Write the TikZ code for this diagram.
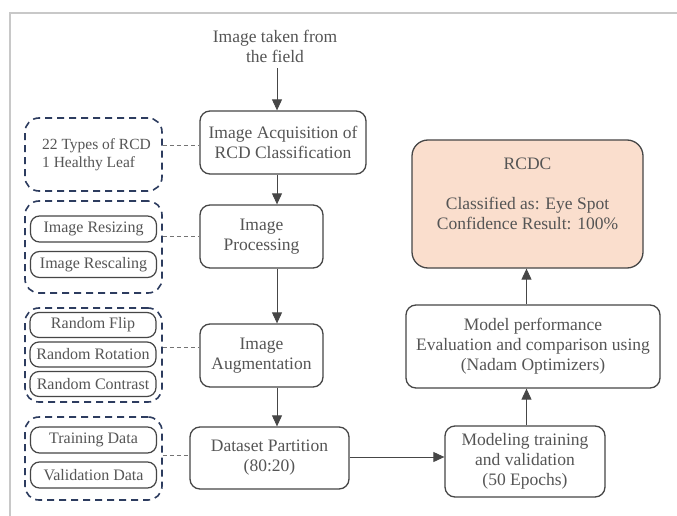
\documentclass[tikz,border=0pt]{standalone}
\usepackage{fontspec}
\setmainfont{Liberation Serif}
\usetikzlibrary{arrows.meta}
\definecolor{txt}{RGB}{85,85,85}
\definecolor{bord}{RGB}{70,70,70}
\definecolor{navy}{RGB}{45,60,95}
\definecolor{peach}{RGB}{250,222,205}
\definecolor{framec}{RGB}{200,200,200}
\begin{document}
\begin{tikzpicture}[x=1pt,y=-1pt,
 box/.style={draw=bord, line width=1.3pt, rounded corners=10pt, align=center, text=txt, font=\fontsize{17.5}{20}\selectfont, inner sep=0pt},
 sub/.style={draw=bord, line width=1.2pt, rounded corners=9pt, text=txt, font=\fontsize{16}{18}\selectfont, minimum width=126pt, minimum height=26pt, inner sep=0pt},
 grp/.style={draw=navy, line width=1.6pt, dash pattern=on 7pt off 5pt, rounded corners=14pt, minimum width=137pt, inner sep=0pt},
 arr/.style={draw=bord, line width=0.9pt, -{Triangle[length=11pt,width=10pt]}},
 conn/.style={draw=bord!75, line width=0.8pt, dash pattern=on 4pt off 3pt},
 plain/.style={align=center, text=txt, font=\fontsize{17.5}{20}\selectfont, inner sep=0pt}]
\useasboundingbox (0,0) rectangle (677,516);
\fill[white] (0,0) rectangle (677,516);
% frame
\draw[framec, line width=2pt] (10,516) -- (10,13) -- (677,13);

% main flow
\node[plain] (src) at (275,46) {Image taken from\\the field};
\node[box, minimum width=166pt, minimum height=63pt] (acq) at (283,142.5) {Image Acquisition of\\RCD Classification};
\node[box, minimum width=123pt, minimum height=63pt] (proc) at (261.5,236.5) {Image\\Processing};
\node[box, minimum width=123pt, minimum height=63pt] (aug) at (261.5,355.5) {Image\\Augmentation};
\node[box, minimum width=159pt, minimum height=62pt] (ds) at (269.5,458) {Dataset Partition\\(80:20)};
\node[box, minimum width=160pt, minimum height=71pt] (mt) at (525,461.5) {Modeling training\\and validation\\(50 Epochs)};
\node[box, minimum width=254pt, minimum height=83pt] (ev) at (533,346.5) {Model performance\\Evaluation and comparison using\\(Nadam Optimizers)};
\node[box, fill=peach, rounded corners=16pt, minimum width=231pt, minimum height=128pt] (rc) at (527.5,204) {RCDC\\\mbox{}\\Classified as: Eye Spot\\Confidence Result: 100\%\\\mbox{}};

\coordinate (ax) at (277,0);
\coordinate (bx) at (526.5,0);
\draw[arr] (src.south -| ax) ++(0,6) -- (acq.north -| ax);
\draw[arr] (acq.south -| ax) -- (proc.north -| ax);
\draw[arr] (proc.south -| ax) -- (aug.north -| ax);
\draw[arr] (aug.south -| ax) -- (ds.north -| ax);
\draw[arr] ([yshift=1pt]ds.east) -- ([yshift=1pt]ds.east -| mt.west);
\draw[arr] (mt.north -| bx) -- (ev.south -| bx);
\draw[arr] (ev.north -| bx) -- (rc.south -| bx);

% left groups
\node[grp, minimum height=73pt, text=txt, font=\fontsize{15.5}{18}\selectfont] (g1) at (93.5,154.5) {\begin{tabular}{@{\hspace{6pt}}l@{}}22 Types of RCD\\1 Healthy Leaf\end{tabular}};

\node[grp, minimum height=92pt] (g2) at (93.5,247) {};
\node[sub] (r1) at (93.5,229) {Image Resizing};
\node[sub] (r2) at (93.5,264.5) {Image Rescaling};

\node[grp, minimum height=94pt] (g3) at (93.5,355) {};
\node[sub, minimum height=25pt] (a1) at (93,325) {Random Flip};
\node[sub, minimum height=25pt] (a2) at (93,354.5) {Random Rotation};
\node[sub, minimum height=25pt] (a3) at (93,384) {Random Contrast};

\node[grp, minimum height=83pt] (g4) at (93.5,458.5) {};
\node[sub] (d1) at (93.5,440) {Training Data};
\node[sub] (d2) at (93.5,475) {Validation Data};

\draw[conn] ([yshift=-3pt]g1.east |- acq.west) -- ([yshift=-3pt]acq.west);
\draw[conn] (g2.east |- proc.west) -- (proc.west);
\draw[conn] ([yshift=8pt]g3.east |- aug.west) -- ([yshift=8pt]aug.west);
\draw[conn] ([yshift=3pt]g4.east |- ds.west) -- ([yshift=3pt]ds.west);
\end{tikzpicture}
\end{document}
